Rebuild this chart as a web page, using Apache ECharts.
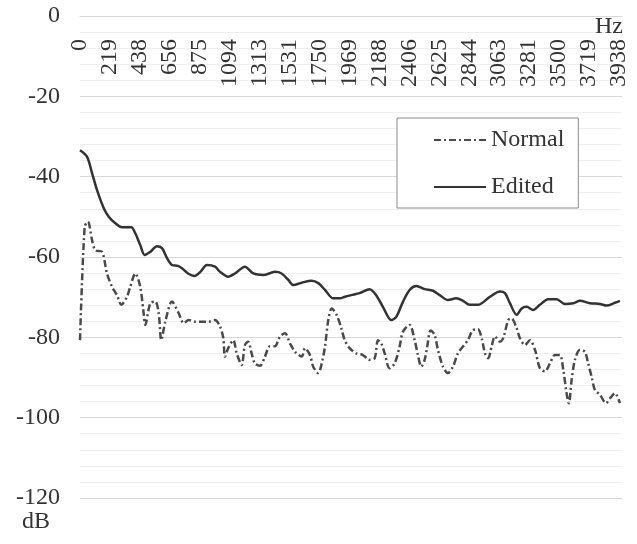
<!DOCTYPE html>
<html>
<head>
<meta charset="utf-8">
<script src="https://cdn.jsdelivr.net/npm/echarts@6/dist/echarts.min.js"></script>
<style>html,body{margin:0;padding:0;background:#fff;}#c{width:637px;height:544px;}</style>
</head>
<body>
<div id="c"></div>
<script>
// Tick labels on the top (frequency) axis, one every 218.75 Hz
var xTickLabels = ['0','219','438','656','875','1094','1313','1531','1750','1969','2188','2406','2625','2844','3063','3281','3500','3719','3938'];
var xTickStep = 218.75;

// "Edited" series (solid line): frequency (Hz) and level (dB)
var editedHz = [0,51,88,124,173,210,258,307,343,375,404,440,473,514,562,599,636,672,716,745,789,838,879,928,986,1023,1083,1132,1205,1266,1339,1424,1473,1522,1558,1620,1693,1741,1790,1850,1899,1936,1982,2043,2116,2164,2213,2274,2311,2360,2408,2457,2518,2579,2628,2688,2749,2798,2847,2907,2995,3068,3105,3141,3190,3227,3263,3311,3360,3421,3482,3543,3604,3653,3726,3799,3847,3908,3945];
var editedDb = [-33.4,-35.0,-39.1,-43.3,-47.8,-50.0,-51.6,-52.6,-52.6,-52.6,-54.1,-57.0,-59.5,-58.7,-57.3,-57.8,-60.3,-62.0,-62.2,-62.8,-64.1,-64.7,-63.7,-62.0,-62.4,-63.7,-64.9,-64.1,-62.4,-64.1,-64.5,-63.7,-64.1,-65.7,-67.0,-66.4,-65.9,-66.5,-68.2,-70.3,-70.3,-69.9,-69.5,-69.0,-68.0,-69.5,-72.4,-75.7,-74.9,-71.1,-68.2,-67.2,-68.0,-68.4,-69.5,-70.7,-70.3,-70.9,-71.9,-71.9,-69.9,-68.6,-69.0,-71.5,-74.4,-72.8,-72.4,-73.2,-71.9,-70.5,-70.5,-71.7,-71.5,-70.9,-71.5,-71.7,-72.1,-71.4,-70.9];

// "Normal" series (dash-dot line): frequency (Hz) and level (dB)
var normalHz = [0,34,58,88,112,161,197,234,270,302,343,367,404,440,465,477,514,550,575,594,623,672,721,758,794,843,891,940,986,1023,1047,1059,1083,1120,1145,1181,1205,1229,1254,1278,1315,1351,1388,1424,1461,1498,1534,1571,1620,1644,1680,1704,1741,1766,1790,1814,1839,1875,1909,1934,1970,2018,2067,2116,2153,2177,2201,2226,2262,2299,2335,2360,2408,2445,2469,2493,2518,2537,2562,2591,2615,2652,2688,2725,2761,2798,2834,2871,2907,2937,2959,2983,3007,3032,3068,3092,3129,3153,3190,3214,3251,3287,3324,3360,3397,3433,3470,3506,3531,3555,3572,3592,3616,3653,3689,3713,3738,3762,3799,3843,3872,3908,3945];
var normalDb = [-80.7,-52.5,-51.2,-55.8,-58.3,-58.7,-64.1,-67.4,-69.5,-71.9,-69.9,-67.4,-64.1,-67.4,-74.0,-76.9,-71.5,-71.1,-74.0,-80.7,-76.1,-71.1,-74.0,-76.5,-75.7,-76.1,-76.1,-76.1,-75.7,-77.3,-80.2,-84.8,-82.7,-80.7,-84.0,-86.9,-81.9,-81.1,-84.0,-86.5,-87.1,-84.8,-82.2,-82.2,-79.8,-79.0,-81.5,-83.6,-84.8,-82.7,-84.4,-87.3,-88.9,-86.5,-82.3,-75.7,-72.8,-74.4,-77.7,-80.7,-82.7,-84.0,-84.4,-85.6,-85.2,-80.7,-81.5,-84.0,-87.7,-86.5,-82.3,-78.6,-76.9,-80.7,-84.4,-87.3,-85.6,-82.3,-78.3,-79.4,-83.1,-87.3,-88.9,-87.3,-84.0,-82.3,-80.7,-78.2,-78.0,-80.5,-84.0,-85.2,-82.3,-79.8,-81.1,-80.2,-75.7,-75.3,-77.7,-80.2,-81.9,-80.7,-83.1,-87.7,-88.5,-86.5,-84.4,-84.4,-88.1,-93.9,-96.4,-90.6,-85.6,-83.1,-83.6,-86.5,-89.8,-93.1,-94.3,-96.4,-95.2,-93.9,-96.4];

function pairs(xs, ys) { return xs.map(function (x, i) { return [x, ys[i]]; }); }

var FONT = 'Liberation Serif';
var chart = echarts.init(document.getElementById('c'), null, { renderer: 'canvas' });
chart.setOption({
  animation: false,
  backgroundColor: '#ffffff',
  textStyle: { fontFamily: FONT },
  grid: { left: 80, right: 15, top: 16, bottom: 46, containLabel: false, outerBoundsMode: 'none' },
  legend: {
    orient: 'vertical',
    left: 397, top: 118,
    padding: [10, 14, 9, 36],
    itemGap: 23,
    itemWidth: 52, itemHeight: 14,
    borderColor: '#8c8c8c', borderWidth: 1,
    backgroundColor: '#ffffff',
    itemStyle: { opacity: 0 },
    textStyle: { fontFamily: FONT, fontSize: 24, color: '#333' },
    data: ['Normal', 'Edited']
  },
  xAxis: {
    type: 'value', position: 'top',
    min: 0, max: 3960, interval: xTickStep,
    name: 'Hz', nameLocation: 'end', nameGap: -27, nameMoveOverlap: false,
    nameTextStyle: { fontFamily: FONT, fontSize: 24, color: '#333', verticalAlign: 'top', padding: [-1, 0, 0, 0] },
    axisLine: { show: true, lineStyle: { color: '#d9d9d9', width: 1 } },
    axisTick: { show: false },
    splitLine: { show: false },
    axisLabel: {
      inside: true, rotate: 90, margin: 23,
      fontFamily: FONT, fontSize: 24, color: '#333',
      showMaxLabel: false,
      formatter: function (v) {
        var k = v / xTickStep;
        if (Math.abs(k - Math.round(k)) < 1e-6) { return xTickLabels[Math.round(k)] || ''; }
        return '';
      }
    }
  },
  yAxis: {
    type: 'value', min: -120, max: 0, interval: 20,
    name: 'dB', nameLocation: 'start', nameGap: 12,
    nameTextStyle: { fontFamily: FONT, fontSize: 24, color: '#333', align: 'right', verticalAlign: 'top', padding: [0, 30, 0, 0] },
    axisLine: { show: false }, axisTick: { show: false },
    axisLabel: { margin: 20, fontFamily: FONT, fontSize: 24, color: '#333' },
    splitLine: { show: true, lineStyle: { color: '#d9d9d9', width: 1 } },
    minorTick: { show: false, splitNumber: 5 },
    minorSplitLine: { show: true, lineStyle: { color: '#efefef', width: 1 } }
  },
  series: [
    {
      name: 'Normal', type: 'line', symbol: 'none', smooth: 0.3,
      data: pairs(normalHz, normalDb),
      lineStyle: { color: '#4a4a4a', width: 2.5, type: [7, 3, 2, 3] },
      itemStyle: { color: '#4a4a4a' }
    },
    {
      name: 'Edited', type: 'line', symbol: 'none', smooth: 0.3,
      data: pairs(editedHz, editedDb),
      lineStyle: { color: '#333333', width: 2.5, type: 'solid' },
      itemStyle: { color: '#333333' }
    }
  ]
});
</script>
</body>
</html>
